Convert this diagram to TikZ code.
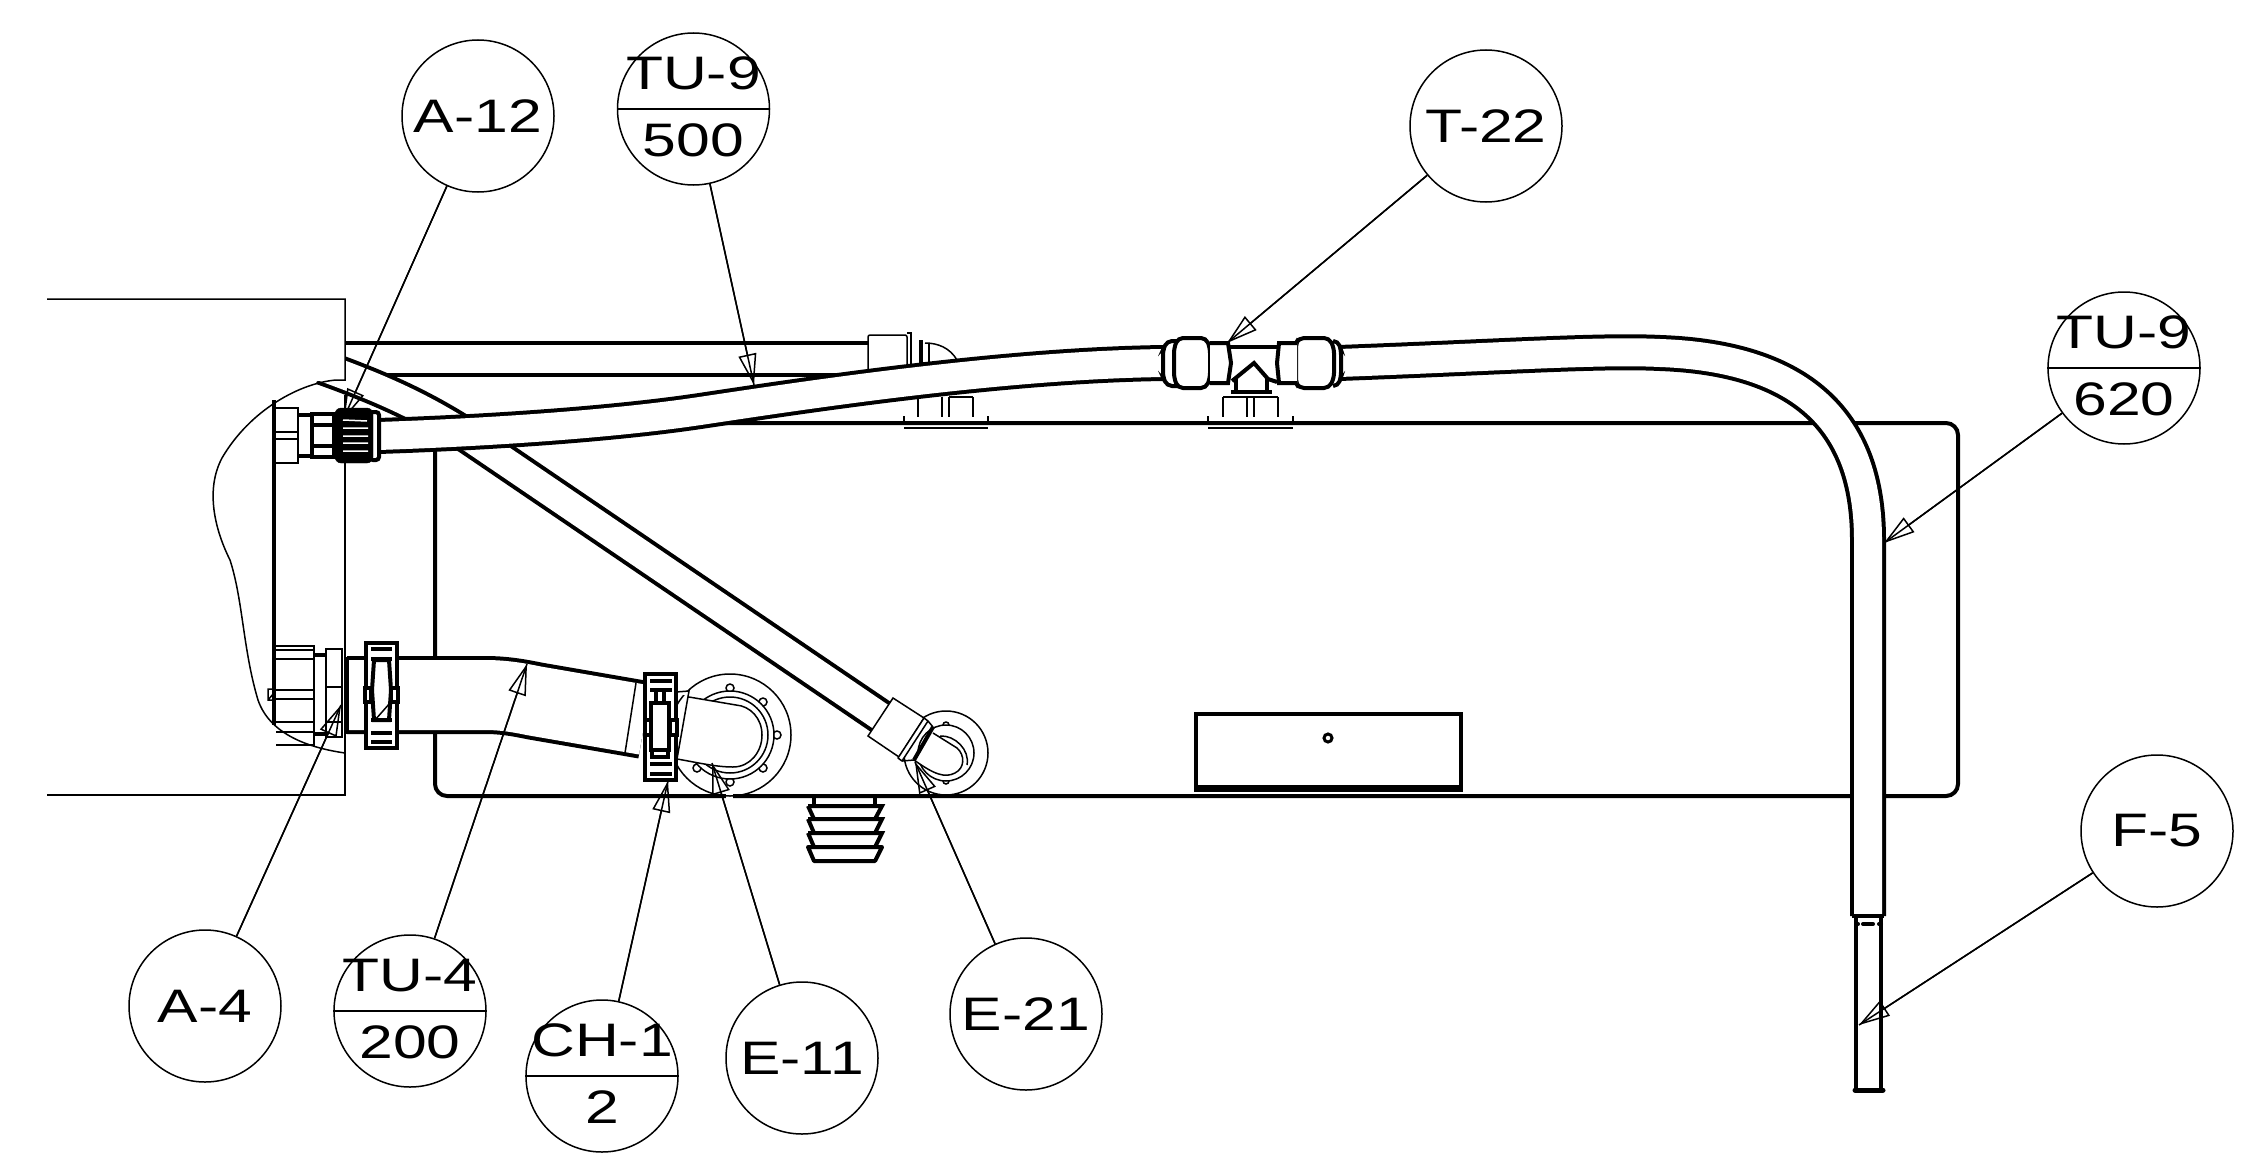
\documentclass[tikz,border=0pt]{standalone}
\usepackage{fontspec}
\setmainfont[FakeStretch=1.29]{Liberation Sans}
\usetikzlibrary{arrows.meta,positioning}
\tikzset{
    %Define line weights
    heavy/.style={
           draw=black,
           line width=4pt},
    fine/.style={
           draw=black,
           line width=1.5pt},
    % Define tube style
    tube/.style={
           line width=4pt,
           double=white,
           double distance=28pt},
    %Define style for callouts
    bubble/.style={
           circle,
           draw=black,
           line width=1.5pt,
           minimum size=152pt,
           inner sep=0pt,
           font=\fontsize{47}{50}\selectfont},
    tag/.style={
           inner sep=0pt,
           font=\fontsize{47}{50}\selectfont},
    % Define arrow style
    leader/.style={
           draw=black,
           line width=1.5pt,
           -{Triangle[open,length=31pt,width=18pt]},
           postaction={draw,-}}
}
\begin{document}
\begin{tikzpicture}[x=1pt,y=-1pt]
 \useasboundingbox (0,0) rectangle (2253,1164);
 %tank
    \draw[heavy, rounded corners=12pt] (435,423) rectangle (1958,796);
    \draw[white, line width=5pt] (726,796) -- (733,796);
    \draw[heavy] (1196,714) rectangle (1461,788);
    \draw[draw=black, line width=7pt] (1194,788) -- (1463,788);
    \draw[draw=black, line width=3pt] (1328,738) circle (4);
 %drain
    \draw[heavy] (814,797) -- (814,806) (875,797) -- (875,806);
    \draw[heavy] (808,806) -- (882,806) -- (875,819) (814,819) -- (808,806);
    \draw[heavy] (808,819) -- (882,819) -- (875,833) (814,833) -- (808,819);
    \draw[heavy] (808,833) -- (882,833) -- (875,847) (814,847) -- (808,833);
    \draw[heavy, line join=round] (808,847) -- (882,847) -- (875,861) -- (814,861) -- cycle;
 %upper pipe and its fitting
    \draw[heavy] (345,343) -- (868,343) (345,375) -- (860,375);
    \draw[fine, fill=white, rounded corners=2pt] (868,400) -- (868,335) -- (907,335) -- (907,400);
    \draw[fine] (907,333) -- (911,333) -- (911,395);
    \draw[heavy] (921,340) -- (921,395);
    \draw[fine] (929,343) -- (929,395);
    \draw[fine] (925,343) .. controls (938,343) and (950,348) .. (957,360);
 %mounts
    \draw[fine] (918,397) -- (918,417) (942,397) -- (942,417) (949,397) -- (949,417) (973,397) -- (973,417) (949,397) -- (973,397);
    \draw[fine] (904,416) -- (904,423) (988,416) -- (988,423) (904,428) -- (988,428);
    \draw[fine] (1223,397) -- (1223,417) (1247,397) -- (1247,417) (1254,397) -- (1254,417) (1278,397) -- (1278,417) (1223,397) -- (1278,397);
    \draw[fine] (1208,416) -- (1208,423) (1293,416) -- (1293,423) (1208,428) -- (1293,428);
 %diagonal tube
    \draw[tube] (322,367) .. controls (375,386) and (420,405) .. (469,437) -- (881,717);
 %wall
    \fill[white] (300,340) -- (345,340) -- (345,380) -- (318,381) -- (300,385) -- cycle;
    \draw[fine] (47,299) -- (345,299) -- (345,380) -- (336,380)
       .. controls (300,383) and (250,410) .. (222,458)
       .. controls (205,490) and (215,530) .. (230,560)
       .. controls (243,600) and (243,650) .. (258,700)
       .. controls (270,735) and (310,748) .. (345,753);
    \draw[fine] (345,395) -- (345,795) -- (47,795);
    \draw[heavy] (274,400) -- (274,725);
 %upper left fitting
    \draw[fine] (275,408) rectangle (298,463) (275,432) -- (298,432) (275,439) -- (298,439);
    \draw[heavy] (298,415) -- (312,415) (298,456) -- (312,456);
    \draw[heavy] (312,414) rectangle (334,457) (312,425) -- (334,425) (312,446) -- (334,446);
 %lower left fitting
    \draw[fine] (276,646) -- (314,646) -- (314,745) -- (276,745);
    \draw[fine] (276,650) -- (314,650) (276,659) -- (314,659) (276,690) -- (314,690) (276,699) -- (314,699) (276,722) -- (314,722) (276,732) -- (314,732);
    \draw[fine] (268,689) rectangle (274,700) (268,700) -- (274,693);
    \draw[fine] (326,649) rectangle (342,737) (326,687) -- (342,687) (326,722) -- (342,722);
    \draw[heavy] (314,655) -- (326,655) (314,734) -- (326,734);
 %E-11 elbow
    \draw[fine] (730,735) circle (61);
    \draw[fine] (730,688) circle (4) (763,702) circle (4) (777,735) circle (4) (763,768) circle (4) (730,782) circle (4) (697,768) circle (4);
    \draw[fine, fill=white] (730,735) circle (44);
    \draw[fine] (730,735) circle (38);
    \draw[fine, fill=white] (676,692) -- (689,691) -- (677,759)
       .. controls (695,762) and (715,767) .. (733,767)
       .. controls (750,767) and (762,752) .. (762,735)
       .. controls (762,718) and (750,706) .. (736,705) -- (689,697);
 %TU-4 hose
    \draw[tube, double distance=70pt] (347,695) -- (485,695) .. controls (505,695) and (520,698) .. (535,701) -- (645,720);
    \draw[heavy] (347,657) -- (347,734);
    \draw[fine] (636,683) -- (625,753);
 %clamps
    \draw[heavy, fill=white] (366,643) rectangle (397,748);
    \draw[heavy] (371,649) -- (392,649) (371,733) -- (392,733) (371,742) -- (392,742);
    \draw[heavy, fill=white] (374,660) -- (389,660) -- (391,690) -- (389,720) -- (374,720) -- (372,690) -- cycle;
    \draw[heavy] (371,659) -- (392,659) (371,720) -- (392,720);
    \draw[heavy, fill=white] (365,688) rectangle (371,702) (391,688) rectangle (398,702);
    \draw[fine] (375,720) -- (390,703);
    \draw[heavy, fill=white] (645,674) rectangle (676,780);
    \draw[heavy] (650,681) -- (672,681) (650,764) -- (672,764) (650,774) -- (672,774);
    \draw[heavy] (650,690) -- (672,690) (656,690) -- (656,703) (664,690) -- (664,703);
    \draw[heavy, fill=white] (651,703) rectangle (669,750);
    \draw[heavy] (652,750) -- (652,757) -- (668,757) -- (668,750);
    \draw[heavy, fill=white] (645,720) rectangle (651,735) (670,720) rectangle (677,735);
 %E-21 elbow
    \draw[fine] (946,753) circle (42);
    \draw[fine] (946,725) circle (3) (946,781) circle (3);
    \draw[fine, fill=white] (946,753) circle (28);
    \draw[fine] (940,736) .. controls (955,735) and (970,750) .. (967,765);
    \draw[fine, fill=white] (893,698) -- (924,718) -- (899,757) -- (868,736) -- cycle;
    \draw[fine, fill=white, line join=round] (924,718) -- (928,721) -- (902,761) -- (898,758) -- cycle;
    \draw[fine, fill=white] (933,733) -- (957,748) .. controls (965,755) and (965,768) .. (955,773) .. controls (945,778) and (935,775) .. (914,760);
    \draw[heavy] (933,727) -- (914,760);
    \draw[fine] (928,721) -- (933,727) (902,761) -- (914,760);
 %main tube
    \coordinate (tipa12) at (343,420);
    \node[bubble] (a12) at (478,116) {A-12};
    \draw[leader] (a12) -- (tipa12);
    \draw[tube] (378,436) .. controls (500,432) and (620,423) .. (700,411) .. controls (800,396) and (1000,365) .. (1165,363);
    \draw[tube] (1339,363) .. controls (1500,357) and (1600,350) .. (1660,353) .. controls (1800,358) and (1868,420) .. (1868,540) -- (1868,916);
    \draw[heavy, line join=round] (1852,916) -- (1884,916);
 %nut
    \draw[heavy, fill=white, rounded corners=3pt] (370,412) rectangle (379,460);
    \draw[black, fill=black, rounded corners=6pt] (335,408) rectangle (373,463);
    \draw[white, line width=1.5pt] (343,420) -- (367,421) (343,428) -- (368,428) (343,436) -- (368,436) (343,443) -- (368,443) (343,451) -- (368,451);
 %T connector
    \draw[heavy, fill=white, rounded corners=5pt] (1178,341) -- (1167,341) -- (1163,350) -- (1163,377) -- (1167,386) -- (1178,386);
    \draw[heavy, fill=white, rounded corners=5pt] (1178,338) -- (1206,338) -- (1210,348) -- (1210,378) -- (1206,388) -- (1178,388) -- (1174,378) -- (1174,348) -- cycle;
    \draw[heavy, fill=white] (1210,343) -- (1228,343) -- (1231,363) -- (1228,383) -- (1210,383);
    \draw[heavy] (1230,347) -- (1278,347);
    \draw[heavy] (1232,381) -- (1254,363) -- (1268,379) -- (1277,382);
    \draw[heavy] (1236,378) -- (1236,392) (1267,378) -- (1267,392) (1231,392) -- (1272,392);
    \draw[heavy, fill=white, rounded corners=5pt] (1333,341) -- (1338,341) -- (1341,350) -- (1341,377) -- (1338,386) -- (1333,386);
    \draw[heavy, fill=white, rounded corners=5pt] (1299,338) -- (1329,338) -- (1334,348) -- (1334,378) -- (1329,388) -- (1299,388) -- (1296,383) -- (1296,343) -- cycle;
    \draw[heavy, fill=white] (1297,343) -- (1279,343) -- (1277,363) -- (1279,383) -- (1297,383);
 %tail
    \draw[heavy] (1856,916) -- (1856,1090) (1881,916) -- (1881,1090);
    \draw[draw=black, line width=5pt, line cap=round] (1855,1090) -- (1883,1090);
    \draw[draw=black, line width=4pt, line cap=round] (1863,924) -- (1873,924) (1856,924) -- (1858,924) (1879,924) -- (1881,924);
 %callouts
    \node[bubble] (t22) at (1486,126) {T-22};
    \node[bubble] (f5) at (2157,831) {F-5};
    \node[bubble] (a4) at (205,1006) {A-4};
    \node[bubble] (e11) at (802,1058) {E-11};
    \node[bubble] (e21) at (1026,1014) {E-21};
    \node[bubble] (tu9a) at (693.5,109) {};
    \node[bubble] (tu9b) at (2124,368) {};
    \node[bubble] (tu4) at (410,1011) {};
    \node[bubble] (ch1) at (602,1076) {};
    \draw[fine] (tu9a.west) -- (tu9a.east);
    \draw[fine] (tu9b.west) -- (tu9b.east);
    \draw[fine] (tu4.west) -- (tu4.east);
    \draw[fine] (ch1.west) -- (ch1.east);
    \node[tag, above=19pt of tu9a.center] (tu9atop) {TU-9};
    \node[tag, below=14pt of tu9a.center] (tu9abot) {500};
    \node[tag, above=19pt of tu9b.center] (tu9btop) {TU-9};
    \node[tag, below=14pt of tu9b.center] (tu9bbot) {620};
    \node[tag, above=19pt of tu4.center] (tu4top) {TU-4};
    \node[tag, below=14pt of tu4.center] (tu4bot) {200};
    \node[tag, above=19pt of ch1.center] (ch1top) {CH-1};
    \node[tag, below=14pt of ch1.center] (ch1bot) {2};
 %leaders
    \coordinate (tiptu9a) at (754,385);
    \coordinate (tipt22) at (1227,343);
    \coordinate (tiptu9b) at (1884,543);
    \coordinate (tipf5) at (1859,1025);
    \coordinate (tipa4) at (341,705);
    \coordinate (tiptu4) at (527,664);
    \coordinate (tipch1) at (668,781);
    \coordinate (tipe11) at (712,763);
    \coordinate (tipe21) at (915,762);
    \draw[leader] (tu9a) -- (tiptu9a);
    \draw[leader] (t22) -- (tipt22);
    \draw[leader] (tu9b) -- (tiptu9b);
    \draw[leader] (f5) -- (tipf5);
    \draw[leader] (a4) -- (tipa4);
    \draw[leader] (tu4) -- (tiptu4);
    \draw[leader] (ch1) -- (tipch1);
    \draw[leader] (e11) -- (tipe11);
    \draw[leader] (e21) -- (tipe21);
  \end{tikzpicture}
\end{document}
